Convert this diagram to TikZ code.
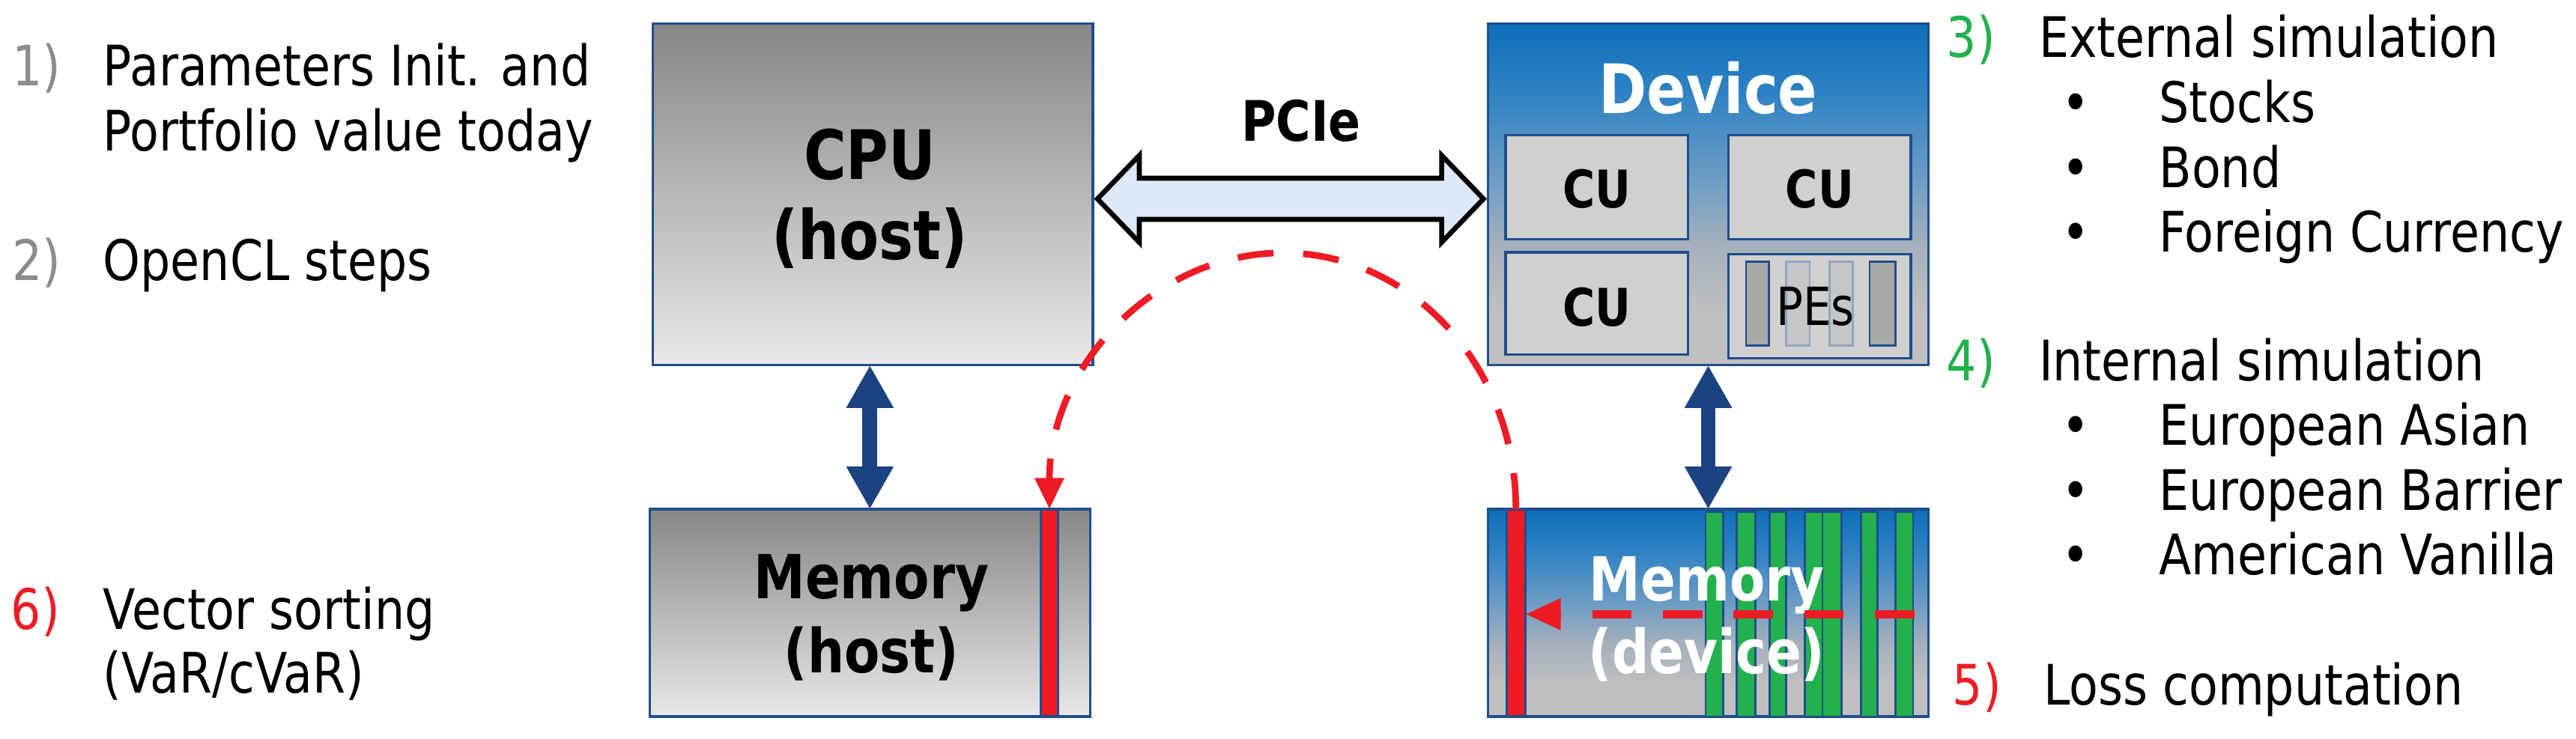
\documentclass[tikz,border=0pt]{standalone}
\usepackage{fontspec}
\setmainfont{DejaVu Sans}[FakeStretch=0.85]
\usetikzlibrary{arrows.meta}
\definecolor{bordblue}{HTML}{1F4E8C}
\definecolor{arrblue}{HTML}{1B4382}
\definecolor{myred}{HTML}{ED1C24}
\definecolor{mygreen}{HTML}{22B14C}
\definecolor{numgray}{HTML}{8C8C8C}
\definecolor{cufill}{HTML}{D0D0D0}
\definecolor{pciefill}{HTML}{DCE9F6}
\definecolor{pedark}{HTML}{A9A9A9}
\definecolor{pelight}{HTML}{C6C6C6}
\definecolor{peline}{HTML}{8FA6C2}
\definecolor{gtop}{HTML}{878787}
\definecolor{gbot}{HTML}{E8E8E8}
\definecolor{bstop}{HTML}{0E6EB8}
\definecolor{bsmthree}{HTML}{2E82C2}
\definecolor{bsmtwo}{HTML}{6C9CC4}
\definecolor{bsmone}{HTML}{A5B0BC}
\definecolor{bsbot}{HTML}{C0C0C0}
\pgfdeclareverticalshading{grayshade}{100bp}{color(0bp)=(gbot); color(25bp)=(gbot); color(75bp)=(gtop); color(100bp)=(gtop)}
\pgfdeclareverticalshading{blueshade}{100bp}{color(0bp)=(bsbot); color(32.5bp)=(bsbot); color(42.5bp)=(bsmone); color(52.5bp)=(bsmtwo); color(65bp)=(bsmthree); color(75bp)=(bstop); color(100bp)=(bstop)}
\tikzset{
  side/.style={anchor=base west, inner sep=0pt, font=\fontsize{34}{40}\selectfont},
  bul/.style={anchor=base, inner sep=0pt, font=\fontsize{34}{40}\selectfont},
  lbl/.style={anchor=base, inner sep=0pt},
  bigbox/.style={draw=bordblue, line width=1.5pt, minimum width=268pt, inner sep=0pt, outer sep=0pt},
  cubox/.style={draw=bordblue, line width=1.5pt, fill=cufill, minimum width=111pt, minimum height=63pt, inner sep=0pt, outer sep=0pt},
  pebar/.style={line width=1.2pt, minimum height=51pt, inner sep=0pt, outer sep=0pt},
  greenbar/.style={draw=bordblue, fill=mygreen, line width=1.2pt, minimum height=125pt, inner sep=0pt, outer sep=0pt},
  redbar/.style={draw=bordblue, fill=myred, line width=1.5pt, minimum height=126.3pt, inner sep=0pt, outer sep=0pt},
  barrow/.style={arrblue, line width=9pt, {Triangle[length=26pt,width=27pt]}-{Triangle[length=26pt,width=27pt]}},
  bigbold/.style={font=\fontsize{41.5}{48}\selectfont\bfseries},
  membold/.style={font=\fontsize{37}{44}\selectfont\bfseries},
  cubold/.style={font=\fontsize{31.6}{38}\selectfont\bfseries},
}
\begin{document}
\begin{tikzpicture}[x=1pt,y=-1pt]
\path[use as bounding box] (0,0) rectangle (1568,450);

% left texts
\node[side, text=numgray] (n1) at (7.2,52.2) {1)};
\node[side] (t1a) at (62.6,52.2) {Parameters Init. and};
\node[side] (t1b) at (62.6,91.8) {Portfolio value today};
\node[side, text=numgray] (n2) at (7.2,170.8) {2)};
\node[side] (t2) at (62.6,170.8) {OpenCL steps};
\node[side, text=myred] (n6) at (6.5,383.2) {6)};
\node[side] (t6a) at (62.6,383.2) {Vector sorting};
\node[side] (t6b) at (62.6,421.9) {(VaR/cVaR)};

% right texts
\node[side, text=mygreen] (n3) at (1184.7,35) {3)};
\node[side] (t3) at (1240.9,35) {External simulation};
\node[bul] (b31) at (1263.6,74.5) {•};
\node[side] (t31) at (1314.1,74.5) {Stocks};
\node[bul] (b32) at (1263.6,114) {•};
\node[side] (t32) at (1314.1,114) {Bond};
\node[bul] (b33) at (1263.6,153.5) {•};
\node[side] (t33) at (1314.1,153.5) {Foreign Currency};
\node[side, text=mygreen] (n4) at (1184.7,231.9) {4)};
\node[side] (t4) at (1240.9,231.9) {Internal simulation};
\node[bul] (b41) at (1263.6,271.2) {•};
\node[side] (t41) at (1314.1,271.2) {European Asian};
\node[bul] (b42) at (1263.6,310.6) {•};
\node[side] (t42) at (1314.1,310.6) {European Barrier};
\node[bul] (b43) at (1263.6,349.8) {•};
\node[side] (t43) at (1314.1,349.8) {American Vanilla};
\node[side, text=myred] (n5) at (1188.4,429.1) {5)};
\node[side] (t5) at (1243.8,429.1) {Loss computation};

% main boxes
\node[bigbox, shading=grayshade, minimum height=208pt] (cpu) at (531.2,118.4) {};
\node[bigbox, shading=blueshade, minimum height=208pt] (dev) at (1039.8,118.4) {};
\node[bigbox, shading=grayshade, minimum height=126.3pt] (memh) at (529.5,373.2) {};
\node[bigbox, shading=blueshade, minimum height=126.3pt] (memd) at (1039.8,373.2) {};

% CPU labels
\node[lbl, bigbold] (cpuA) at (529.5,109.1) {CPU};
\node[lbl, bigbold] (cpuB) at (529.5,157.9) {(host)};

% device content
\node[lbl, text=white, bigbold] (devlbl) at (1039.7,68.9) {Device};
\node[cubox, minimum height=63.1pt] (cu1) at (971.95,114) {};
\node[cubox, minimum height=63.1pt] (cu2) at (1107.65,114) {};
\node[cubox, minimum height=62.2pt] (cu3) at (971.95,184.7) {};
\node[cubox, minimum height=63.1pt] (pes) at (1107.65,186.5) {};
\node[lbl, cubold] (cu1l) at (971.95,126.3) {CU};
\node[lbl, cubold] (cu2l) at (1107.65,126.3) {CU};
\node[lbl, cubold] (cu3l) at (971.95,198.6) {CU};
\node[pebar, draw=bordblue, fill=pedark, minimum width=14pt] (pe1) at (1069.8,184.85) {};
\node[pebar, draw=peline, fill=pelight, minimum width=14.3pt] (pe2) at (1094.35,184.85) {};
\node[pebar, draw=peline, fill=pelight, minimum width=14.3pt] (pe3) at (1120.75,184.85) {};
\node[pebar, draw=bordblue, fill=pedark, minimum width=15.8pt] (pe4) at (1145.9,184.85) {};
\node[lbl, font=\fontsize{32}{38}\selectfont] (peslbl) at (1105,198) {PEs};

% memory host content
\node[lbl, membold] (mhA) at (530.4,364.5) {Memory};
\node[lbl, membold] (mhB) at (530.4,409.5) {(host)};
\node[redbar, minimum width=10.3pt] (barh) at (638.75,373.2) {};

% memory device content
\node[redbar, minimum width=11.4pt] (bard) at (922.7,373.2) {};
\node[greenbar, minimum width=10.9pt] (g1) at (1043.55,374.2) {};
\node[greenbar, minimum width=11.5pt] (g2) at (1062.75,374.2) {};
\node[greenbar, minimum width=10.1pt] (g3) at (1082.15,374.2) {};
\node[greenbar, minimum width=10.7pt] (g4) at (1103.95,374.2) {};
\node[greenbar, minimum width=11.5pt] (g5) at (1115.05,374.2) {};
\node[greenbar, minimum width=10pt] (g6) at (1137.8,374.2) {};
\node[greenbar, minimum width=10.6pt] (g7) at (1159.1,374.2) {};
\node[lbl, text=white, membold] (mdA) at (1038.9,366) {Memory};
\node[lbl, text=white, membold] (mdB) at (1038.9,410) {(device)};

% PCIe
\node[lbl, font=\fontsize{34}{40}\selectfont\bfseries] (pcie) at (792,86.1) {PCIe};
\draw[line width=3pt, fill=pciefill, line join=miter] (668,121.1) -- (693.5,94.6) -- (693.5,108.5) -- (877.5,108.5) -- (877.5,94.6) -- (903,121.1) -- (877.5,147.6) -- (877.5,133.6) -- (693.5,133.6) -- (693.5,147.6) -- cycle;

% blue arrows
\draw[barrow] (cpu.south -| memh.north) -- (memh.north);
\draw[barrow] (dev.south) -- (memd.north);

% red dashed connectors
\draw[myred, line width=4pt, dash pattern=on 22pt off 18pt, -{Triangle[length=19pt,width=17pt]}]
  (bard.north) .. controls (922.7,222) and (858.4,154) .. (781,154)
  .. controls (703.6,154) and (638.75,222) .. (barh.north);
\coordinate (lossend) at (1165.2,374);
\draw[myred, line width=5pt, dash pattern=on 24pt off 19pt, -{Triangle[length=21.6pt,width=18pt]}]
  (lossend) -- (lossend -| bard.east);
\end{tikzpicture}
\end{document}
